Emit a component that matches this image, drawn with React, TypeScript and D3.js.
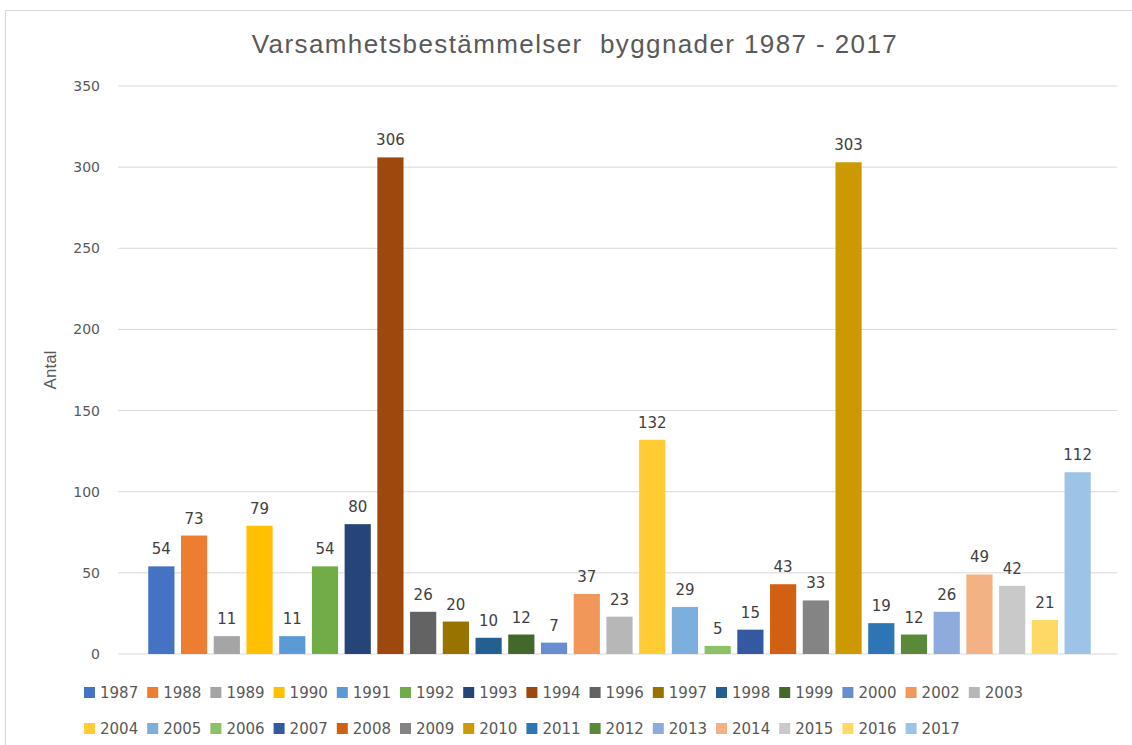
import React from "react";
import * as d3 from "d3";

const years = ["1987","1988","1989","1990","1991","1992","1993","1994","1996","1997","1998","1999","2000","2002","2003","2004","2005","2006","2007","2008","2009","2010","2011","2012","2013","2014","2015","2016","2017"];
const values = [54,73,11,79,11,54,80,306,26,20,10,12,7,37,23,132,29,5,15,43,33,303,19,12,26,49,42,21,112];
const colors = ["#4472C4","#ED7D31","#A5A5A5","#FFC000","#5B9BD5","#70AD47","#264478","#9E480E","#636363","#997300","#255E91","#43682B","#698ED0","#F1975A","#B7B7B7","#FFCD33","#7CAFDD","#8CC168","#335AA1","#D26012","#848484","#CC9A00","#2E75B6","#5A8A39","#8FAADC","#F4B183","#C9C9C9","#FFD966","#9DC3E6"];
const yTicks = [0,50,100,150,200,250,300,350];
const title = "Varsamhetsbestämmelser  byggnader 1987 - 2017";
const yLabel = "Antal";

export default function App() {
  const W = 1132, H = 745;
  const plotL = 118, plotR = 1117;
  const y = d3.scaleLinear().domain([0, 350]).range([654, 86]);
  const x = d3.scaleBand().domain(years).range([145, 1094]).paddingInner(0.2).paddingOuter(0.1);
  const row1 = years.slice(0, 15);
  const row2 = years.slice(15);
  const legStep = 63.2;
  const tickFont = "DejaVu Sans, Verdana, sans-serif";
  return (
    <svg width={W} height={H} style={{ position: "absolute", left: 0, top: 0, background: "#fff" }}>
      <rect x={5.5} y={10.5} width={W} height={H} fill="#fff" stroke="#d9d9d9" />
      <text x={575} y={53} textAnchor="middle" fontFamily="Liberation Sans, Arial, sans-serif" fontSize={26} letterSpacing={1.4} fill="#595959" style={{ whiteSpace: "pre" }}>{title}</text>
      {yTicks.map(t => (
        <g key={t}>
          <line x1={plotL} x2={plotR} y1={y(t)} y2={y(t)} stroke="#d9d9d9" strokeWidth={1} />
          <text x={100} y={y(t) + 5} textAnchor="end" fontFamily={tickFont} fontSize={14} fill="#595959">{t}</text>
        </g>
      ))}
      <text transform={`translate(56,370) rotate(-90)`} textAnchor="middle" fontFamily="Liberation Sans, Arial, sans-serif" fontSize={17} fill="#595959">{yLabel}</text>
      {years.map((yr, i) => (
        <g key={yr}>
          <rect x={x(yr)} y={y(values[i])} width={x.bandwidth()} height={y(0) - y(values[i])} fill={colors[i]} />
          <text x={(x(yr) as number) + x.bandwidth() / 2} y={y(values[i]) - 12} textAnchor="middle" fontFamily={tickFont} fontSize={15} fill="#404040">{values[i]}</text>
        </g>
      ))}
      {[row1, row2].map((row, r) => row.map((yr, j) => {
        const i = years.indexOf(yr);
        const lx = 84 + j * legStep;
        const ly = r === 0 ? 692 : 728;
        return (
          <g key={yr}>
            <rect x={lx} y={ly - 5} width={11} height={11} fill={colors[i]} />
            <text x={lx + 16} y={ly + 6} fontFamily={tickFont} fontSize={15} fill="#595959">{yr}</text>
          </g>
        );
      }))}
    </svg>
  );
}
